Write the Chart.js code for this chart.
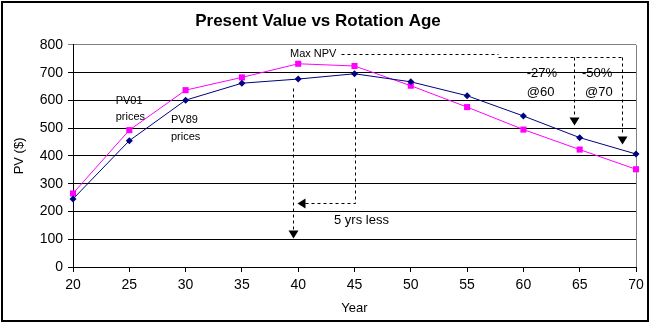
<!DOCTYPE html>
<html>
<head>
<meta charset="utf-8">
<script src="https://cdn.jsdelivr.net/npm/chart.js@4/dist/chart.umd.min.js"></script>
<style>
html,body{margin:0;padding:0;background:#fff}
#wrap{width:649px;height:322px}
</style>
</head>
<body>
<div id="wrap"><canvas id="chart" width="649" height="322"></canvas></div>
<script>
// values
const years = [20, 25, 30, 35, 40, 45, 50, 55, 60, 65, 70]
const pv89 = [245, 455, 601, 662, 677, 696, 667, 617, 544, 466, 407]
const pv01 = [265, 493, 637, 683, 732, 724, 653, 576, 495, 423, 352]
const yMin = 0, yMax = 800, yStep = 100
const xMin = 20, xMax = 70, xStep = 5

const FONT = 'Arial, "Liberation Sans", sans-serif'

const toPts = vals => years.map((yr, i) => ({ x: yr, y: vals[i] }))

// annotations, in data units (year, PV)
const notes = {
	id: 'notes',
	beforeDatasetsDraw(chart){
		const { ctx, chartArea: a } = chart
		ctx.save()
		ctx.strokeStyle = '#808080'; ctx.lineWidth = 1
		ctx.beginPath(); ctx.moveTo(Math.round(a.right) + 0.5, a.top); ctx.lineTo(Math.round(a.right) + 0.5, a.bottom); ctx.stroke()
		ctx.restore()
	},
	afterDatasetsDraw(chart){
		const { ctx, scales: { x, y } } = chart
		const px = v => Math.round(x.getPixelForValue(v)) + 0.5
		const py = v => Math.round(y.getPixelForValue(v)) + 0.5
		ctx.save()
		ctx.strokeStyle = '#000'; ctx.fillStyle = '#000'; ctx.lineWidth = 1
		ctx.setLineDash([3, 3])
		const path = pts => {
			ctx.beginPath()
			pts.forEach((p, i) => i ? ctx.lineTo(px(p[0]), py(p[1])) : ctx.moveTo(px(p[0]), py(p[1])))
			ctx.stroke()
		}
		path([[43.8, 766], [57.74, 766]])
		path([[57.74, 756], [68.76, 756]])
		path([[64.49, 756], [64.49, 540]])
		path([[68.76, 756], [68.76, 475]])
		path([[45, 644], [45, 231], [40.6, 231]])
		path([[39.5, 644], [39.5, 136]])
		ctx.setLineDash([])
		const down = (xv, tipV) => {
			const cx = px(xv), ty = py(tipV)
			ctx.beginPath(); ctx.moveTo(cx - 5, ty - 8); ctx.lineTo(cx + 5, ty - 8); ctx.lineTo(cx, ty); ctx.closePath(); ctx.fill()
		}
		const left = (tipX, yv) => {
			const tx = px(tipX), cy = py(yv)
			ctx.beginPath(); ctx.moveTo(tx + 8, cy - 5); ctx.lineTo(tx + 8, cy + 5); ctx.lineTo(tx, cy); ctx.closePath(); ctx.fill()
		}
		down(64.49, 511)
		down(68.76, 443)
		down(39.5, 105)
		left(39.9, 231)

		ctx.textAlign = 'left'; ctx.textBaseline = 'middle'
		const text = (s, xv, yv, size) => { ctx.font = size + 'px ' + FONT; ctx.fillText(s, x.getPixelForValue(xv), y.getPixelForValue(yv)) }
		text('PV01', 23.79, 597, 11)
		text('prices', 23.79, 540, 11)
		text('PV89', 28.7, 529, 11)
		text('prices', 28.7, 468, 11)
		text('Max NPV', 39.27, 766, 11)
		text('-27%', 60.3, 698, 13)
		text('@60', 60.3, 630, 13)
		text('-50%', 65.2, 698, 13)
		text('@70', 65.47, 630, 13)
		text('5 yrs less', 43.18, 166, 13)
		ctx.restore()
	},
	afterDraw(chart){
		const { ctx, width, height } = chart
		ctx.save()
		ctx.strokeStyle = '#000'; ctx.lineWidth = 2
		ctx.strokeRect(2, 2, width - 3, height - 3)
		ctx.restore()
	}
}

const ctx = document.getElementById('chart').getContext('2d')
new Chart(ctx, {
	type: 'line',
	data: {
		datasets: [
			{ label: 'PV89 prices', data: toPts(pv89), borderColor: '#000080', backgroundColor: '#000080', borderWidth: 1,
				pointStyle: 'rectRot', pointRadius: 3.5, pointBorderWidth: 0, tension: 0, order: 1, clip: false },
			{ label: 'PV01 prices', data: toPts(pv01), borderColor: '#ff00ff', backgroundColor: '#ff00ff', borderWidth: 1,
				pointStyle: 'rect', pointRadius: 4.3, pointBorderWidth: 0, tension: 0, order: 2, clip: false }
		]
	},
	options: {
		responsive: false, animation: false, devicePixelRatio: 1,
		layout: { padding: { left: 0, right: 13, top: 0, bottom: 0 } },
		plugins: {
			legend: { display: false },
			tooltip: { enabled: false },
			title: { display: true, text: 'Present Value vs Rotation Age', color: '#000',
				font: { family: FONT, size: 17, weight: 'bold' }, padding: { top: 11, bottom: 13.5 } }
		},
		scales: {
			x: {
				type: 'linear', min: xMin, max: xMax,
				ticks: { stepSize: xStep, color: '#000', font: { family: FONT, size: 14 }, padding: 5, maxRotation: 0 },
				grid: { drawOnChartArea: false, drawTicks: true, tickLength: 5, color: '#000' },
				border: { color: '#000' },
				title: { display: true, text: 'Year', color: '#000', font: { family: FONT, size: 13 }, padding: { top: 0, bottom: 6 } },
				afterFit: s => { s.height = 55 }
			},
			y: {
				min: yMin, max: yMax,
				ticks: { stepSize: yStep, color: '#000', font: { family: FONT, size: 14 }, padding: 5 },
				grid: { color: c => c.tick && c.tick.value === yMax ? '#808080' : '#000', tickLength: 5 },
				border: { color: '#000' },
				title: { display: true, text: 'PV ($)', color: '#000', font: { family: FONT, size: 13 }, padding: { top: 12, bottom: 0 } },
				afterFit: s => { s.width = 73 }
			}
		}
	},
	plugins: [notes]
})
</script>
</body>
</html>
